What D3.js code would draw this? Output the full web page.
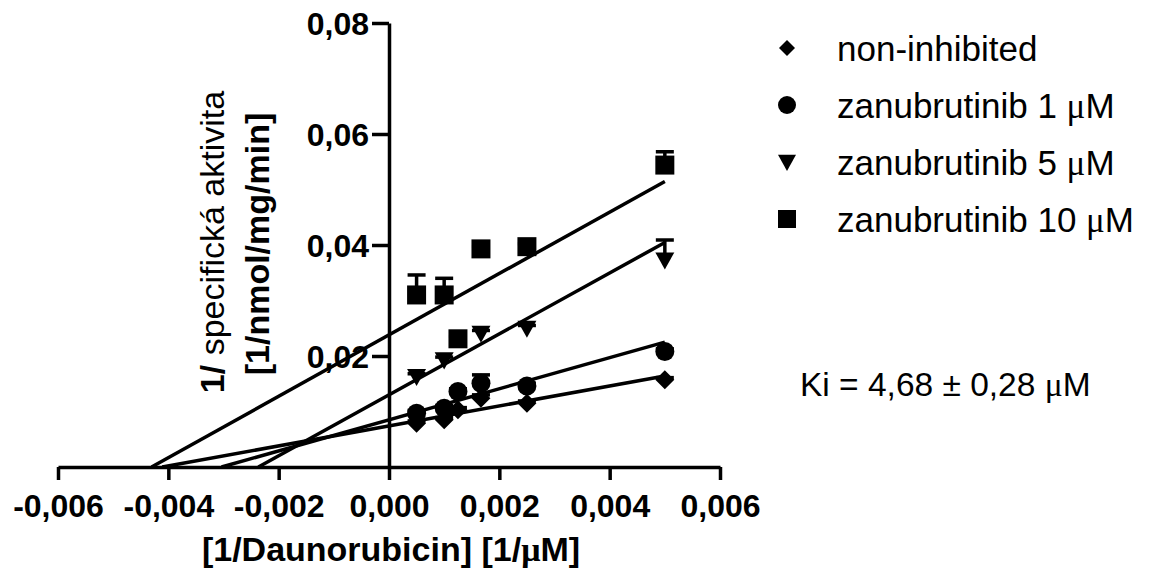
<!DOCTYPE html>
<html>
<head>
<meta charset="utf-8">
<script src="https://cdn.jsdelivr.net/npm/d3@7"></script>
<style>
  body { margin: 0; background: #fff; }
  text { font-family: "Liberation Sans", Arial, sans-serif; fill: #000; }
  .mu { font-family: "Liberation Serif", "Times New Roman", serif; }
</style>
</head>
<body>
<script>
// data
var xValues = [0.0005, 0.001, 0.00125, 0.001667, 0.0025, 0.005];
var seriesNames = ["non-inhibited", "zanubrutinib 1 \u03bcM", "zanubrutinib 5 \u03bcM", "zanubrutinib 10 \u03bcM"];
var seriesShapes = ["diamond", "circle", "triangle", "square"];
var nonInhibited = [0.0079, 0.0085, 0.0103, 0.0124, 0.0115, 0.0157];
var zanu1 = [0.0097, 0.0106, 0.0136, 0.0151, 0.0146, 0.0208];
var zanu5 = [0.0163, 0.0193, null, 0.0241, 0.0250, 0.0373];
var zanu10 = [0.0310, 0.0310, 0.0231, 0.0393, 0.0397, 0.0544];
var nonInhibitedErr = [0.0004, 0.0004, 0.0004, 0.0006, 0.0004, 0.0004];
var zanu1Err = [0.0005, 0.0005, 0.0005, 0.0015, 0.0005, 0.0005];
var zanu5Err = [0.0005, 0.0005, null, 0.0005, 0.0005, 0.0036];
var zanu10Err = [0.0036, 0.0030, 0.0005, 0.0005, 0.0005, 0.0024];
// linear fits (slope, y intercept)
var slopes = [1.8, 2.8, 5.49, 5.53];
var intercepts = [0.0074, 0.0085, 0.0130, 0.0238];
var xTicks = [-0.006, -0.004, -0.002, 0, 0.002, 0.004, 0.006];
var yTicks = [0.02, 0.04, 0.06, 0.08];

var values = [nonInhibited, zanu1, zanu5, zanu10];
var errors = [nonInhibitedErr, zanu1Err, zanu5Err, zanu10Err];

var width = 1153, height = 575;
var lineWidth = 3.5;

var svg = d3.select("body").append("svg")
    .attr("width", width)
    .attr("height", height);

var x = d3.scaleLinear().domain([-0.006, 0.006]).range([58, 720]);
var y = d3.scaleLinear().domain([0, 0.08]).range([467, 23]);

// comma as decimal separator, plain hyphen for minus
var locale = d3.formatLocale({ decimal: ",", thousands: " ", grouping: [3], currency: ["", ""], minus: "-" });

function symbolPath(shape, s) {
  if (shape == "diamond") return "M0," + (-s) + "L" + s + ",0L0," + s + "L" + (-s) + ",0Z";
  if (shape == "circle") return d3.symbol(d3.symbolCircle, Math.PI * s * s)();
  if (shape == "triangle") return "M" + (-s) + "," + (-0.8 * s) + "L" + s + "," + (-0.8 * s) + "L0," + (1.0 * s) + "Z";
  return "M" + (-s) + "," + (-s) + "h" + (2 * s) + "v" + (2 * s) + "h" + (-2 * s) + "Z";
}

// writes a label, putting the mu sign in a serif face like the original
function muText(sel, str) {
  var parts = str.split("\u03bc");
  parts.forEach(function(p, i) {
    if (i > 0) sel.append("tspan").attr("class", "mu").text("\u03bc");
    if (p.length) sel.append("tspan").text(p);
  });
}

// axes
var xAxis = svg.append("g")
    .attr("transform", "translate(0," + y(0) + ")")
    .call(d3.axisBottom(x).tickValues(xTicks).tickSize(13).tickSizeOuter(0)
      .tickPadding(14).tickFormat(locale.format(".3f")));

var yAxis = svg.append("g")
    .attr("transform", "translate(" + x(0) + ",0)")
    .call(d3.axisLeft(y).tickValues(yTicks).tickSize(17).tickSizeOuter(0)
      .tickPadding(3).tickFormat(locale.format(".2f")));

[xAxis, yAxis].forEach(function(g) {
  g.selectAll("path, line").attr("stroke", "#000").attr("stroke-width", lineWidth);
  g.selectAll("text")
    .style("font-size", "32px")
    .style("font-weight", "bold")
    .attr("fill", "#000");
});
yAxis.selectAll("text").attr("dy", "0.37em");

// axis titles
var xTitle = svg.append("text")
    .attr("x", 391)
    .attr("y", 561)
    .attr("text-anchor", "middle")
    .style("font-size", "34px")
    .style("font-weight", "bold");
muText(xTitle, "[1/Daunorubicin] [1/\u03bcM]");

var yTitle1 = svg.append("text")
    .attr("transform", "translate(224,242) rotate(-90)")
    .attr("text-anchor", "middle")
    .style("font-size", "34px");
yTitle1.append("tspan").style("font-weight", "bold").text("1/");
yTitle1.append("tspan").text(" specifická aktivita");

svg.append("text")
    .attr("transform", "translate(269,244) rotate(-90)")
    .attr("text-anchor", "middle")
    .style("font-size", "34px")
    .style("font-weight", "bold")
    .text("[1/nmol/mg/min]");

// regression lines, from the x intercept to the last point
var fits = svg.append("g");
slopes.forEach(function(m, i) {
  var x0 = -intercepts[i] / m, x1 = d3.max(xValues);
  fits.append("line")
      .attr("x1", x(x0)).attr("y1", y(0))
      .attr("x2", x(x1)).attr("y2", y(intercepts[i] + m * x1))
      .attr("stroke", "#000")
      .attr("stroke-width", lineWidth);
});

// error bars (upper only) and markers
values.forEach(function(vals, i) {
  var pts = xValues.map(function(xv, j) {
    return { x: xv, y: vals[j], e: errors[i][j] };
  }).filter(function(d) { return d.y != null; });

  var g = svg.append("g");
  var bars = g.selectAll(".err")
      .data(pts)
      .enter().append("g");
  bars.append("line")
      .attr("x1", function(d) { return x(d.x); })
      .attr("x2", function(d) { return x(d.x); })
      .attr("y1", function(d) { return y(d.y); })
      .attr("y2", function(d) { return y(d.y + d.e); })
      .attr("stroke", "#000").attr("stroke-width", lineWidth);
  bars.append("line")
      .attr("x1", function(d) { return x(d.x) - 9; })
      .attr("x2", function(d) { return x(d.x) + 9; })
      .attr("y1", function(d) { return y(d.y + d.e); })
      .attr("y2", function(d) { return y(d.y + d.e); })
      .attr("stroke", "#000").attr("stroke-width", lineWidth);

  g.selectAll(".pt")
      .data(pts)
      .enter().append("path")
      .attr("d", symbolPath(seriesShapes[i], 9.5))
      .attr("transform", function(d) { return "translate(" + x(d.x) + "," + y(d.y) + ")"; })
      .attr("fill", "#000");
});

// legend
var legend = svg.selectAll(".legend")
    .data(seriesNames)
    .enter().append("g")
    .attr("transform", function(d, i) { return "translate(787," + (48 + 57 * i) + ")"; });

legend.append("path")
    .attr("d", function(d, i) { return symbolPath(seriesShapes[i], i == 0 ? 8 : 9); })
    .attr("fill", "#000");

legend.append("text")
    .attr("x", 50)
    .attr("dy", "0.36em")
    .style("font-size", "35px")
    .each(function(d) { muText(d3.select(this), d); });

var ki = svg.append("text")
    .attr("x", 800)
    .attr("y", 396)
    .style("font-size", "33.5px");
muText(ki, "Ki = 4,68 \u00b1 0,28 \u03bcM");
</script>
</body>
</html>
